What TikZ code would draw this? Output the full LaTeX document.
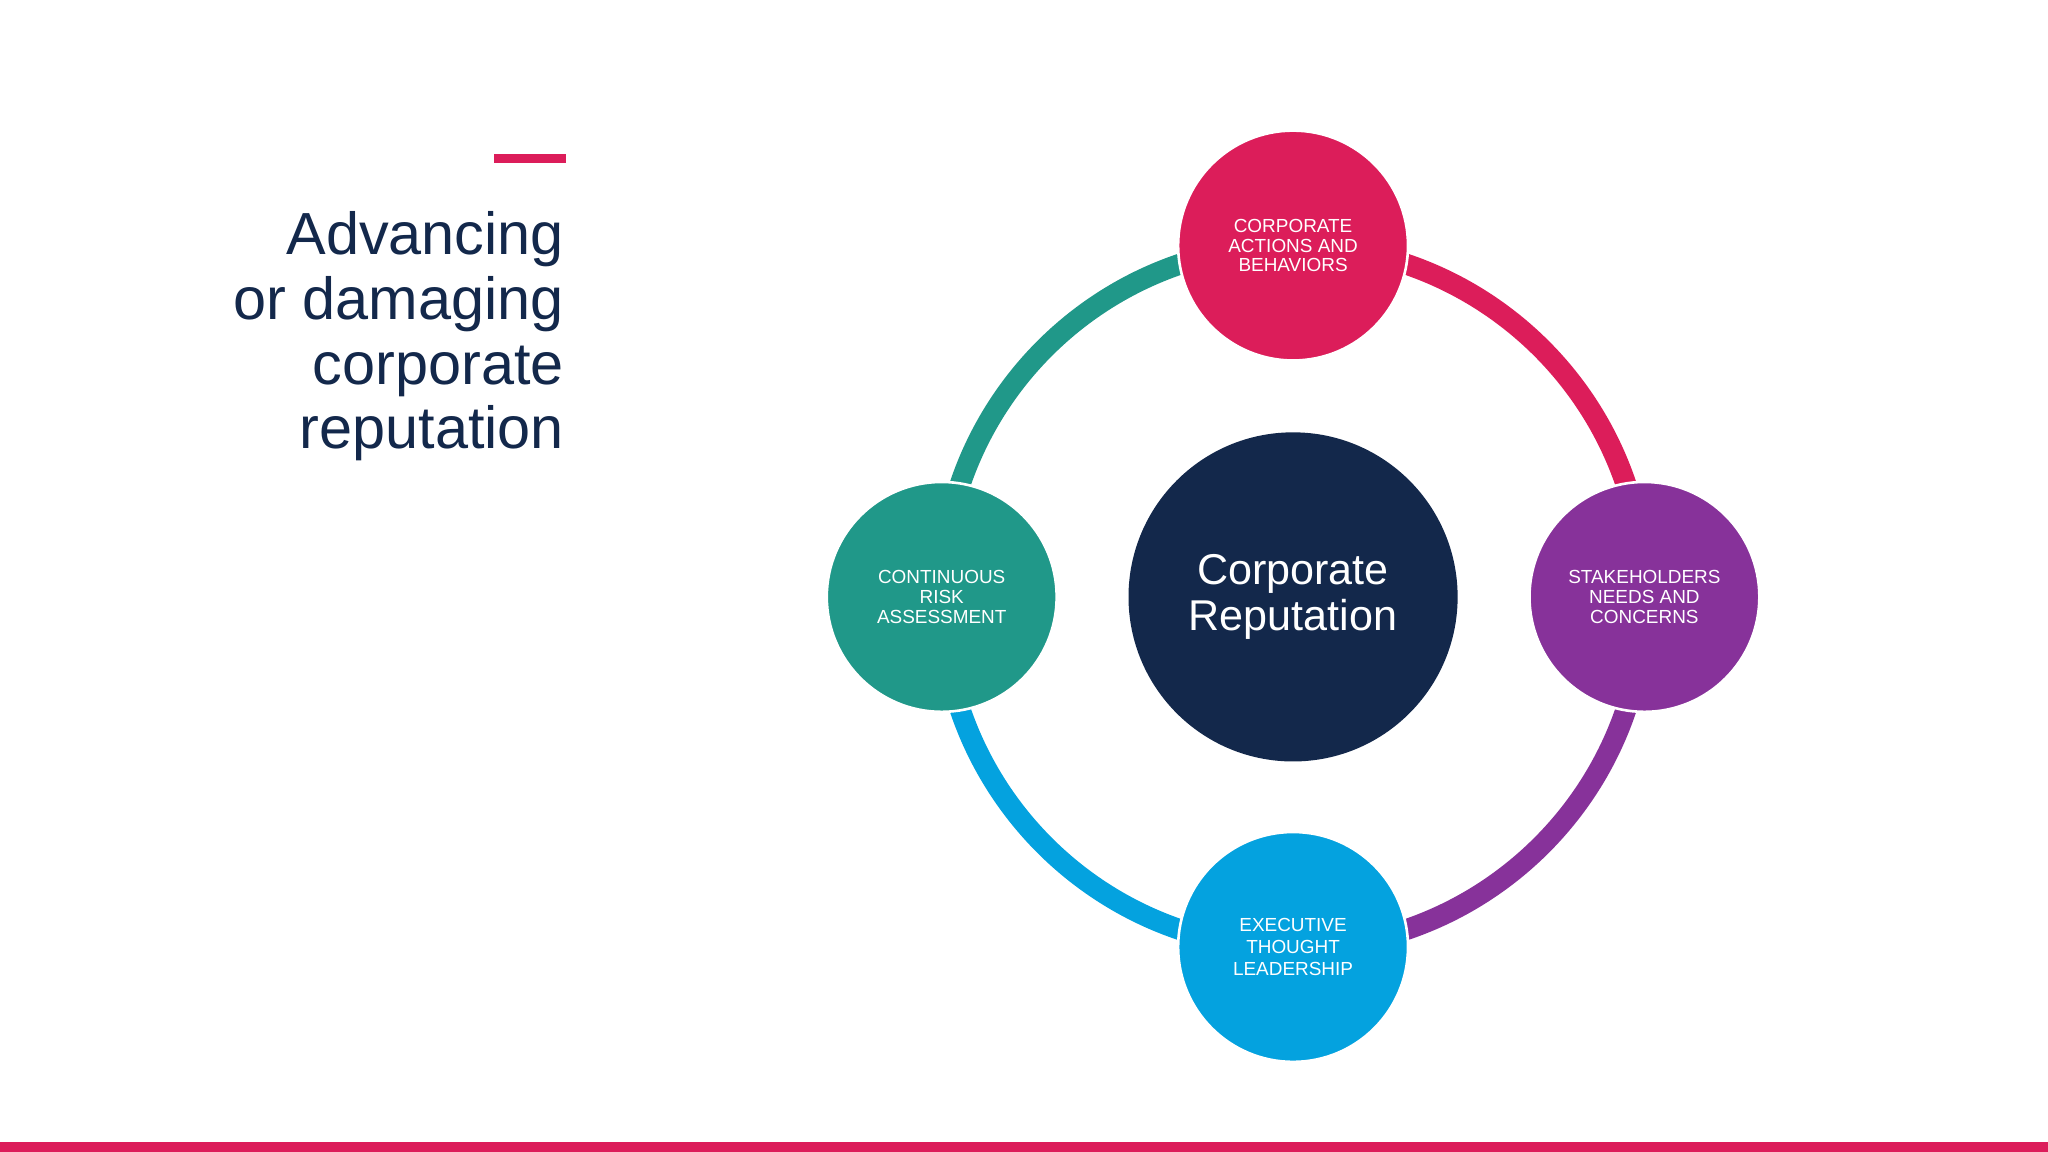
\documentclass[tikz,border=0pt]{standalone}
\usepackage{fontspec}
\setmainfont{Liberation Sans}
\begin{document}
\begin{tikzpicture}[x=1pt,y=-1pt]
\definecolor{cpink}{HTML}{DC1D5A}
\definecolor{cpurple}{HTML}{87329A}
\definecolor{cblue}{HTML}{04A2DF}
\definecolor{cteal}{HTML}{209889}
\definecolor{cnavy}{HTML}{13284B}
\tikzset{
 ring/.style={line width=16pt},
 small/.style={circle,minimum size=176pt,inner sep=0pt,draw=white,line width=2pt,text=white,align=center,font=\fontsize{14.5}{15}\selectfont},
}
\useasboundingbox (0,0) rectangle (1568,882);
\fill[white] (0,0) rectangle (1568,882);
\fill[cpink] (0,874) rectangle (1568,882);
\fill[cpink] (378,118) rectangle (433,125);
\node[anchor=north east,align=right,text=cnavy,font=\fontsize{45.5}{49.5}\selectfont,inner sep=0pt] (title) at (432,162) {Advancing\\or damaging\\corporate\\reputation};
\coordinate (c) at (990,457);
\draw[ring,cteal] (990,457) ++(180:269) arc[start angle=180,end angle=270,radius=269];
\draw[ring,cpink] (990,457) ++(270:269) arc[start angle=270,end angle=360,radius=269];
\draw[ring,cpurple] (990,457) ++(0:269) arc[start angle=0,end angle=90,radius=269];
\draw[ring,cblue] (990,457) ++(90:269) arc[start angle=90,end angle=180,radius=269];
\node[circle,minimum size=252pt,inner sep=0pt,fill=cnavy,text=white,align=center,font=\fontsize{33}{35}\selectfont] (center) at (c) {Corporate\\Reputation};
\node[small,fill=cpink] (top) at (990,188) {CORPORATE\\ACTIONS AND\\BEHAVIORS};
\node[small,fill=cpurple] (right) at (1259,457) {STAKEHOLDERS\\NEEDS AND\\CONCERNS};
\node[small,fill=cblue,font=\fontsize{14.5}{17}\selectfont] (bottom) at (990,725) {EXECUTIVE\\THOUGHT\\LEADERSHIP};
\node[small,fill=cteal] (left) at (721,457) {CONTINUOUS\\RISK\\ASSESSMENT};
\end{tikzpicture}
\end{document}
